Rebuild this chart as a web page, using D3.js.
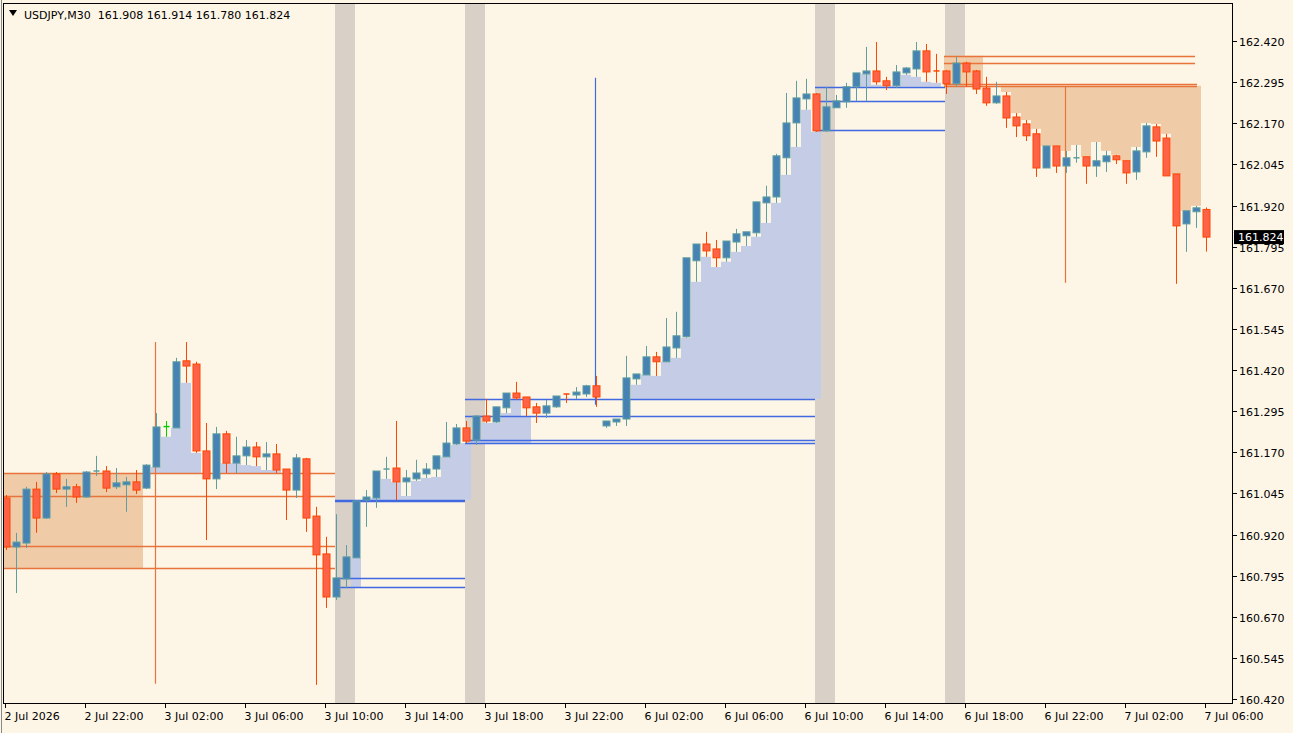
<!DOCTYPE html>
<html>
<head>
<meta charset="utf-8">
<script src="https://cdn.jsdelivr.net/npm/d3@7/dist/d3.min.js"></script>
<style>
body { margin: 0; background: #fdf5e6; }
text { font-family: Tahoma, "DejaVu Sans", sans-serif; font-size: 11px; white-space: pre; }
</style>
</head>
<body>
<svg id="chart" width="1293" height="733"></svg>
<script>
// USDJPY M30 candles, 2 Jul 18:00 .. 7 Jul 06:00
var opens = [161.031,160.882,160.894,161.058,160.970,161.104,161.058,161.065,161.034,161.107,
  161.113,161.065,161.071,161.080,161.061,161.125,161.247,161.244,161.448,161.438,
  161.174,161.089,161.226,161.137,161.159,161.186,161.156,161.165,161.119,161.055,
  161.150,160.976,160.861,160.730,160.785,160.849,161.025,161.031,161.113,161.122,
  161.080,161.089,161.104,161.119,161.156,161.195,161.244,161.207,161.280,161.262,
  161.305,161.350,161.338,161.308,161.289,161.308,161.347,161.344,161.347,161.372,
  161.250,161.262,161.271,161.393,161.405,161.460,161.445,161.487,161.521,161.752,
  161.803,161.788,161.761,161.809,161.828,161.837,161.928,161.946,162.065,162.171,
  162.244,162.259,162.147,162.217,162.235,162.281,162.320,162.329,162.299,162.284,
  162.323,162.335,162.390,162.329,162.329,162.290,162.353,162.329,162.277,162.232,
  162.253,162.189,162.168,162.138,162.034,162.101,162.040,162.059,162.068,162.040,
  162.053,162.071,162.056,162.022,162.083,162.159,162.125,162.016,161.864,161.901,
  161.908];
var highs = [161.040,160.925,161.065,161.080,161.110,161.110,161.089,161.074,161.113,161.159,
  161.128,161.122,161.095,161.116,161.134,161.289,161.265,161.457,161.505,161.445,
  161.259,161.247,161.235,161.217,161.207,161.201,161.201,161.195,161.119,161.165,
  161.153,161.004,160.913,160.982,160.888,161.022,161.055,161.113,161.156,161.265,
  161.116,161.147,161.137,161.159,161.262,161.256,161.265,161.283,161.332,161.308,
  161.350,161.384,161.338,161.320,161.329,161.341,161.347,161.368,161.375,161.402,
  161.265,161.271,161.463,161.408,161.493,161.475,161.578,161.597,161.761,161.803,
  161.840,161.815,161.812,161.849,161.840,161.931,161.980,162.077,162.262,162.299,
  162.305,162.262,162.281,162.256,162.293,162.323,162.402,162.417,162.311,162.347,
  162.341,162.417,162.411,162.381,162.332,162.372,162.357,162.332,162.311,162.296,
  162.265,162.201,162.180,162.153,162.101,162.101,162.086,162.104,162.068,162.113,
  162.086,162.074,162.056,162.098,162.171,162.168,162.138,162.016,161.904,161.919,
  161.914];
var lows = [160.873,160.742,160.879,160.925,160.967,161.046,161.004,161.016,161.031,161.098,
  161.049,161.058,160.989,161.043,161.058,161.125,161.217,161.244,161.381,161.168,
  160.903,161.058,161.107,161.107,161.131,161.128,161.116,161.107,160.964,161.031,
  160.928,160.463,160.697,160.721,160.757,160.849,160.943,161.001,161.089,161.025,
  161.037,161.083,161.092,161.095,161.156,161.192,161.198,161.192,161.259,161.259,
  161.289,161.329,161.280,161.259,161.274,161.305,161.320,161.332,161.338,161.308,
  161.244,161.250,161.250,161.375,161.405,161.402,161.445,161.457,161.518,161.688,
  161.764,161.733,161.749,161.779,161.797,161.825,161.867,161.928,162.013,162.098,
  162.211,162.144,162.144,162.217,162.217,162.238,162.238,162.287,162.271,162.277,
  162.317,162.311,162.296,162.293,162.259,162.281,162.281,162.259,162.223,162.229,
  162.156,162.128,162.116,162.007,162.034,162.019,162.019,162.050,161.986,162.007,
  162.022,162.046,161.986,161.998,162.065,162.068,162.010,161.682,161.779,161.852,
  161.780];
var closes = [160.882,160.897,161.058,160.970,161.104,161.058,161.065,161.034,161.110,161.113,
  161.061,161.077,161.080,161.055,161.131,161.247,161.248,161.445,161.432,161.174,
  161.089,161.226,161.137,161.159,161.186,161.156,161.165,161.116,161.055,161.153,
  160.970,160.858,160.730,160.788,160.852,161.022,161.034,161.113,161.119,161.080,
  161.092,161.107,161.119,161.159,161.198,161.244,161.204,161.280,161.265,161.308,
  161.350,161.335,161.305,161.289,161.311,161.341,161.344,161.353,161.372,161.338,
  161.265,161.271,161.396,161.408,161.460,161.445,161.490,161.524,161.761,161.803,
  161.782,161.761,161.812,161.834,161.840,161.931,161.946,162.071,162.171,162.247,
  162.259,162.147,162.220,162.238,162.281,162.323,162.329,162.296,162.284,162.326,
  162.338,162.390,162.326,162.323,162.290,162.353,162.326,162.274,162.232,162.253,
  162.186,162.162,162.132,162.034,162.101,162.040,162.065,162.065,162.040,162.056,
  162.071,162.059,162.019,162.086,162.162,162.116,162.010,161.858,161.904,161.913,
  161.824];

var priceTicks = [162.420,162.295,162.170,162.045,161.920,161.795,161.670,161.545,161.420,
  161.295,161.170,161.045,160.920,160.795,160.670,160.545,160.420];
var timeTickIdx = [0,8,16,24,32,40,48,56,64,72,80,88,96,104,112,120];
var timeTickLabels = ["2 Jul 2026","2 Jul 22:00","3 Jul 02:00","3 Jul 06:00","3 Jul 10:00",
  "3 Jul 14:00","3 Jul 18:00","3 Jul 22:00","6 Jul 02:00","6 Jul 06:00","6 Jul 10:00",
  "6 Jul 14:00","6 Jul 18:00","6 Jul 22:00","7 Jul 02:00","7 Jul 06:00"];

// session bands (start candle, 2 candles wide)
var bandStarts = [33, 46, 81, 94];
// zone levels: [fromIdx, toIdx, price]
var blueLevels = [[33,46,161.025],[33,46,161.022],[33,46,160.788],[33,46,160.760],
  [46,81,161.332],[46,81,161.280],[46,81,161.207],[46,81,161.198],
  [81,94,162.281],[81,94,162.238],[81,94,162.150]];
var orangeLevels = [[0,33,161.107],[0,33,161.037],[0,33,160.885],[0,33,160.818],
  [94,119,162.375],[94,119,162.353],[94,119.2,162.290],[94,119.2,162.284]];
// fills: [fromIdx, toIdx, base price] above base to lows (blue) / below base to highs (orange)
var blueFills = [[15,27,161.107],[35,35,160.760],[37,46,161.025],[47,52,161.198],[62,81,161.332],[85,93,162.281]];
var orangeFills = [[99,119,162.284]];
var orangeBoxes = [[0,14,161.107,160.818],[94,98,162.375,162.284]];
// vertical spike lines: [idx, top, bottom, colour]
var spikes = [[15,161.505,160.466,"#e8743b"],[59,162.308,161.314,"#4169e1"],[106,162.281,161.685,"#e8743b"]];

var svg = d3.select("#chart");
var x = d3.scaleLinear().domain([0, 120]).range([6, 1206]);
var y = d3.scaleLinear().domain([160.420, 162.420]).range([699, 41]);
var step = x(1) - x(0);
var plotL = 3, plotR = 1232, plotT = 3, plotB = 703;

svg.append("rect").attr("width", 1293).attr("height", 733).attr("fill", "#fdf5e6");

var plot = svg.append("g");
plot.append("clipPath").attr("id", "clip").append("rect")
  .attr("x", plotL).attr("y", plotT).attr("width", plotR - plotL).attr("height", plotB - plotT);
var g = plot.append("g").attr("clip-path", "url(#clip)");

bandStarts.forEach(function(i) {
  g.append("rect").attr("x", x(i) - 1).attr("y", plotT).attr("width", step * 2)
    .attr("height", plotB - plotT).attr("fill", "#d9d1c8");
});

orangeBoxes.forEach(function(b) {
  g.append("rect").attr("x", x(b[0]) - 2).attr("width", x(b[1]) - x(b[0]) - 1)
    .attr("y", y(b[2])).attr("height", y(b[3]) - y(b[2])).attr("fill", "#efcba8");
});

blueFills.forEach(function(f) {
  for (var i = f[0]; i <= f[1]; i++) {
    var top = lows[i] > f[2] ? lows[i] : Math.min(opens[i], closes[i]);
    if (top <= f[2]) continue;
    g.append("rect").attr("x", x(i) - step / 2).attr("width", step)
      .attr("y", y(top)).attr("height", y(f[2]) - y(top)).attr("fill", "#c5cde6");
  }
});
orangeFills.forEach(function(f) {
  for (var i = f[0]; i <= f[1]; i++) {
    if (highs[i] >= f[2]) continue;
    g.append("rect").attr("x", x(i) - step / 2).attr("width", step)
      .attr("y", y(f[2])).attr("height", y(highs[i]) - y(f[2])).attr("fill", "#efcba8");
  }
});

blueLevels.forEach(function(l) {
  g.append("line").attr("x1", x(l[0]) - 1).attr("x2", x(l[1]) - 1)
    .attr("y1", Math.round(y(l[2])) + 0.5).attr("y2", Math.round(y(l[2])) + 0.5)
    .attr("stroke", "#4169e1").attr("stroke-width", 1.5);
});
orangeLevels.forEach(function(l) {
  g.append("line").attr("x1", x(l[0]) - 2).attr("x2", x(l[1]) - 1)
    .attr("y1", Math.round(y(l[2])) + 0.5).attr("y2", Math.round(y(l[2])) + 0.5)
    .attr("stroke", "#e8743b").attr("stroke-width", 1.5);
});

spikes.forEach(function(s) {
  g.append("line").attr("x1", x(s[0]) - 0.5).attr("x2", x(s[0]) - 0.5)
    .attr("y1", y(s[1])).attr("y2", y(s[2])).attr("stroke", s[3]).attr("stroke-width", 1.2);
});

// candles
var idx = d3.range(opens.length);
idx.forEach(function(i) {
  var o = opens[i], c = closes[i];
  var bull = c > o, doji = Math.abs(c - o) < 0.002;
  var wickCol = doji && i === 16 ? "#00d000" : (bull || (doji && c >= o) ? "#5f9ea0" : "#ff4500");
  var bodyCol = bull ? "#4682b4" : "#ff6347";
  var cx = Math.round(x(i)) + 0.5;
  g.append("line").attr("x1", cx).attr("x2", cx).attr("y1", y(highs[i])).attr("y2", y(lows[i]))
    .attr("stroke", wickCol).attr("stroke-width", 1);
  var yt = y(Math.max(o, c)), yb = y(Math.min(o, c));
  if (yb - yt < 2) {
    g.append("line").attr("x1", cx - 3).attr("x2", cx + 3).attr("y1", yt).attr("y2", yt)
      .attr("stroke", wickCol).attr("stroke-width", 1.5);
  } else {
    g.append("rect").attr("x", cx - 3.5).attr("width", 7).attr("y", yt).attr("height", yb - yt)
      .attr("fill", bodyCol).attr("stroke", bull ? "#5f9ea0" : "#ff4500").attr("stroke-width", 1);
  }
});

// frame
svg.append("rect").attr("x", plotL + 0.5).attr("y", plotT + 0.5)
  .attr("width", plotR - plotL).attr("height", plotB - plotT)
  .attr("fill", "none").attr("stroke", "#000").attr("stroke-width", 1);
svg.append("line").attr("x1", 1.5).attr("x2", 1.5).attr("y1", 0).attr("y2", 733).attr("stroke", "#888");

// price axis
var pa = svg.append("g");
priceTicks.forEach(function(p) {
  var yy = Math.round(y(p)) + 0.5;
  pa.append("line").attr("x1", plotR + 1).attr("x2", plotR + 5).attr("y1", yy).attr("y2", yy).attr("stroke", "#000");
  pa.append("text").attr("x", 1239).attr("y", yy + 4).attr("fill", "#000").text(p.toFixed(3));
});
var last = closes[closes.length - 1];
pa.append("rect").attr("x", 1234).attr("y", y(last) - 7).attr("width", 50).attr("height", 14).attr("fill", "#000");
pa.append("text").attr("x", 1238).attr("y", y(last) + 4).attr("fill", "#fff").text(last.toFixed(3));

// time axis
var ta = svg.append("g");
timeTickIdx.forEach(function(i, k) {
  var xx = Math.round(x(i)) - 0.5;
  ta.append("line").attr("x1", xx).attr("x2", xx).attr("y1", plotB).attr("y2", plotB + 5).attr("stroke", "#000");
  ta.append("text").attr("x", xx - 1).attr("y", plotB + 17).attr("fill", "#000").text(timeTickLabels[k]);
});

// header
svg.append("path").attr("d", "M9,10 L17,10 L13,16 Z").attr("fill", "#000");
svg.append("text").attr("x", 24).attr("y", 19).attr("fill", "#000")
  .text("USDJPY,M30  161.908 161.914 161.780 161.824");
</script>
</body>
</html>
